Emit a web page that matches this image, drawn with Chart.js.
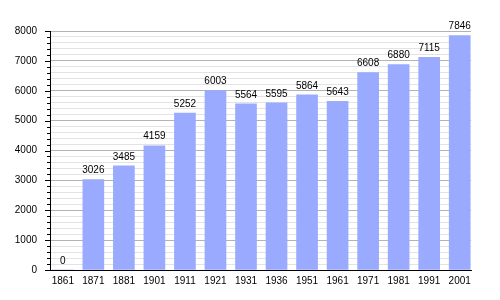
<!DOCTYPE html>
<html>
<head>
<meta charset="utf-8">
<script src="https://cdn.jsdelivr.net/npm/chart.js@4"></script>
<style>
  html, body { margin: 0; padding: 0; background: #fff; }
  #wrap { width: 500px; height: 300px; }
</style>
</head>
<body>
<div id="wrap"><canvas id="myChart" width="500" height="300"></canvas></div>
<script>
// data
const years = ['1861', '1871', '1881', '1901', '1911', '1921', '1931', '1936', '1951', '1961', '1971', '1981', '1991', '2001'];
const population = [0, 3026, 3485, 4159, 5252, 6003, 5564, 5595, 5864, 5643, 6608, 6880, 7115, 7846];

const font = { family: '"Liberation Sans", Arial, sans-serif', size: 10 };

// value labels above the bars
const barLabels = {
  id: 'barLabels',
  afterDatasetsDraw(chart) {
    const ctx = chart.ctx;
    const meta = chart.getDatasetMeta(0);
    ctx.save();
    ctx.font = font.size + 'px ' + font.family;
    ctx.fillStyle = '#000';
    ctx.textAlign = 'center';
    ctx.textBaseline = 'bottom';
    meta.data.forEach((bar, i) => {
      ctx.fillText(String(population[i]), bar.x, bar.y - 4);
    });
    ctx.restore();
  }
};

// tick marks on the y axis: long on thousands, short in between
const yTicks = {
  id: 'yTicks',
  afterDraw(chart) {
    const ctx = chart.ctx;
    const y = chart.scales.y;
    const x0 = chart.chartArea.left;
    ctx.save();
    ctx.strokeStyle = '#000';
    ctx.lineWidth = 1;
    y.ticks.forEach(t => {
      const py = Math.round(y.getPixelForValue(t.value)) + 0.5;
      const len = t.value % 1000 === 0 ? 5 : 3;
      ctx.beginPath();
      ctx.moveTo(x0 - len, py);
      ctx.lineTo(x0, py);
      ctx.stroke();
    });
    ctx.restore();
  }
};

const data = {
  datasets: [{
    label: 'population',
    data: population.map((v, i) => ({ x: i, y: v })),
    backgroundColor: '#99aaff',
    borderWidth: 0,
    barThickness: 21
  }]
};

const config = {
  type: 'bar',
  data,
  options: {
    responsive: false,
    animation: false,
    layout: { padding: { top: 31, right: 29, left: 0, bottom: 0 } },
    plugins: {
      legend: { display: false },
      tooltip: { enabled: false }
    },
    scales: {
      x: {
        type: 'linear',
        offset: false,
        min: -0.42,
        max: 13.37,
        afterBuildTicks: scale => {
          scale.ticks = years.map((_, i) => ({ value: i }));
        },
        afterFit: scale => { scale.height = 30; },
        grid: { display: false, drawTicks: false },
        border: { display: true, color: '#000', width: 1 },
        ticks: {
          padding: 5,
          color: '#000',
          font,
          autoSkip: false,
          maxRotation: 0,
          callback: v => years[v]
        }
      },
      y: {
        min: 0,
        max: 8000,
        afterFit: scale => { scale.width = 50; },
        grid: {
          drawTicks: false,
          color: c => (c.tick && c.tick.value % 1000 === 0) ? '#b3b3b3' : '#e3e3e3'
        },
        border: { display: true, color: '#000', width: 1 },
        ticks: {
          stepSize: 200,
          padding: 13,
          color: '#000',
          font,
          autoSkip: false,
          callback: v => v % 1000 === 0 ? String(v) : ''
        }
      }
    }
  },
  plugins: [barLabels, yTicks]
};

const myChart = new Chart(document.getElementById('myChart'), config);
</script>
</body>
</html>
